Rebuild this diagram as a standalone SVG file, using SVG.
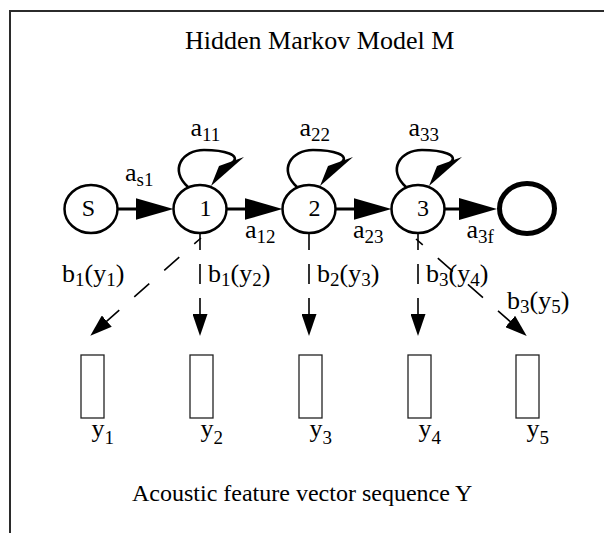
<svg xmlns="http://www.w3.org/2000/svg" xmlns:xlink="http://www.w3.org/1999/xlink" width="604" height="533" viewBox="0 0 604 533">
  <style>
    text { font-family: "Liberation Serif", "Times New Roman", serif; font-size: 26px; fill: #000; }
    .sub { font-size: 19px; }
    .state { fill: #fff; stroke: #000; stroke-width: 2.5; }
    .final { fill: #fff; stroke: #000; stroke-width: 5; }
    .obs { fill: #fff; stroke: #222; stroke-width: 1.3; }
    .trans { stroke: #000; stroke-width: 3; fill: none; marker-end: url(#arrH); }
    .emit { stroke: #000; stroke-width: 1.6; fill: none; marker-end: url(#arrV); }
    .vert { stroke-dasharray: 20 14; }
    .diag { stroke-dasharray: 20 20; stroke-dashoffset: 11; }
    .loop { stroke: #000; stroke-width: 2.6; fill: none; }
    .frame { stroke: #2b2b2b; stroke-width: 2; fill: none; }
  </style>
  <defs>
    <marker id="arrH" markerUnits="userSpaceOnUse" markerWidth="38" markerHeight="22" refX="30" refY="11" orient="auto">
      <path d="M0,0 L38,11 L0,22 z" fill="#000"/>
    </marker>
    <marker id="arrV" markerUnits="userSpaceOnUse" markerWidth="22" markerHeight="15" refX="16" refY="7.5" orient="auto">
      <path d="M0,0 L22,7.5 L0,15 z" fill="#000"/>
    </marker>
    <!-- self transition drawn relative to a state centre -->
    <g id="selfloop">
      <path class="loop" d="M-12,-22 C-31,-39 -18,-59 4,-59 C24,-59 42,-54 32,-46"/>
      <path d="M19,-43 L44,-52 L11,-23 z" fill="#000"/>
    </g>
  </defs>

  <!-- frame -->
  <path class="frame" d="M10,533 L10,11 L604,11"/>

  <text x="185" y="49">Hidden Markov Model M</text>

  <!-- connectors -->
  <g id="connectors">
    <line class="trans" x1="117" y1="209" x2="165.5" y2="209"/>
    <line class="trans" x1="226" y1="209" x2="274.5" y2="209"/>
    <line class="trans" x1="335" y1="209" x2="383.5" y2="209"/>
    <line class="trans" x1="444" y1="209" x2="489" y2="209"/>

    <use xlink:href="#selfloop" href="#selfloop" x="200" y="209"/>
    <use xlink:href="#selfloop" href="#selfloop" x="309" y="209"/>
    <use xlink:href="#selfloop" href="#selfloop" x="418" y="209"/>

    <line class="emit vert" x1="200" y1="230" x2="200" y2="330"/>
    <line class="emit vert" x1="309" y1="230" x2="309" y2="330"/>
    <line class="emit vert" x1="418" y1="230" x2="418" y2="330"/>
    <line class="emit diag" x1="201" y1="238" x2="94.8" y2="331.7"/>
    <line class="emit diag" x1="416" y1="239" x2="522.2" y2="332"/>
  </g>

  <!-- transition labels -->
  <g id="labels">
    <text x="125" y="181">a<tspan class="sub" dy="5">s1</tspan></text>
    <text x="190.5" y="136">a<tspan class="sub" dy="5">11</tspan></text>
    <text x="299.5" y="136">a<tspan class="sub" dy="5">22</tspan></text>
    <text x="408.5" y="136">a<tspan class="sub" dy="5">33</tspan></text>
    <text x="245" y="238">a<tspan class="sub" dy="5">12</tspan></text>
    <text x="353" y="238">a<tspan class="sub" dy="5">23</tspan></text>
    <text x="466.5" y="238">a<tspan class="sub" dy="5">3f</tspan></text>

    <text x="62" y="282">b<tspan class="sub" dy="4">1</tspan><tspan dy="-4">(y</tspan><tspan class="sub" dy="4">1</tspan><tspan dy="-4">)</tspan></text>
    <text x="208" y="282">b<tspan class="sub" dy="4">1</tspan><tspan dy="-4">(y</tspan><tspan class="sub" dy="4">2</tspan><tspan dy="-4">)</tspan></text>
    <text x="317" y="282">b<tspan class="sub" dy="4">2</tspan><tspan dy="-4">(y</tspan><tspan class="sub" dy="4">3</tspan><tspan dy="-4">)</tspan></text>
    <text x="426" y="282">b<tspan class="sub" dy="4">3</tspan><tspan dy="-4">(y</tspan><tspan class="sub" dy="4">4</tspan><tspan dy="-4">)</tspan></text>
    <text x="507" y="309">b<tspan class="sub" dy="4">3</tspan><tspan dy="-4">(y</tspan><tspan class="sub" dy="4">5</tspan><tspan dy="-4">)</tspan></text>
  </g>

  <!-- states -->
  <g id="state-s">
    <ellipse class="state" cx="91" cy="209" rx="26.5" ry="24"/>
    <text x="88.5" y="216" text-anchor="middle" style="font-size:24px">S</text>
  </g>
  <g id="state-1">
    <ellipse class="state" cx="200" cy="209" rx="26.5" ry="24"/>
    <text x="205.5" y="216" text-anchor="middle" style="font-size:24px">1</text>
  </g>
  <g id="state-2">
    <ellipse class="state" cx="309" cy="209" rx="26.5" ry="24"/>
    <text x="314.5" y="216" text-anchor="middle" style="font-size:24px">2</text>
  </g>
  <g id="state-3">
    <ellipse class="state" cx="418" cy="209" rx="26.5" ry="24"/>
    <text x="423" y="216" text-anchor="middle" style="font-size:24px">3</text>
  </g>
  <g id="state-final">
    <ellipse class="final" cx="527" cy="208.5" rx="27.5" ry="25"/>
  </g>

  <!-- observation vectors -->
  <g id="obs-1">
    <rect class="obs" x="81" y="355" width="23" height="63"/>
    <text x="91.5" y="437">y<tspan class="sub" dy="7">1</tspan></text>
  </g>
  <g id="obs-2">
    <rect class="obs" x="190" y="355" width="23" height="63"/>
    <text x="200.5" y="437">y<tspan class="sub" dy="7">2</tspan></text>
  </g>
  <g id="obs-3">
    <rect class="obs" x="299" y="355" width="23" height="63"/>
    <text x="309.5" y="437">y<tspan class="sub" dy="7">3</tspan></text>
  </g>
  <g id="obs-4">
    <rect class="obs" x="408" y="355" width="23" height="63"/>
    <text x="418.5" y="437">y<tspan class="sub" dy="7">4</tspan></text>
  </g>
  <g id="obs-5">
    <rect class="obs" x="516" y="355" width="23" height="63"/>
    <text x="526.5" y="437">y<tspan class="sub" dy="7">5</tspan></text>
  </g>

  <text x="132" y="501" style="font-size:24px">Acoustic feature vector sequence Y</text>
</svg>
